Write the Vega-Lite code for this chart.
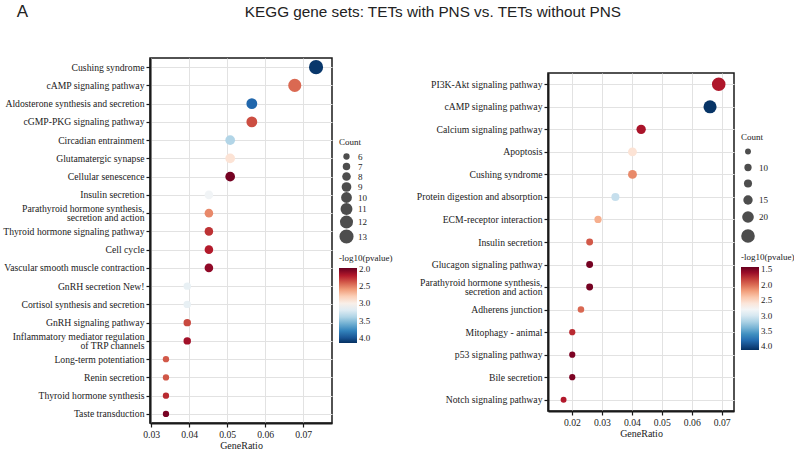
{
  "$schema": "https://vega.github.io/schema/vega-lite/v6.json",
  "background": "white",
  "padding": {"left": 2, "top": 2, "right": 0, "bottom": 0},
  "title": {
    "text": "KEGG gene sets: TETs with PNS vs. TETs without PNS",
    "anchor": "middle",
    "font": "Liberation Sans",
    "fontSize": 15.3,
    "fontWeight": "normal",
    "color": "#222222",
    "offset": 0,
    "dx": 34,
    "dy": 18
  },
  "datasets": {
    "kegg_left": [
      {"Pathway": "Cushing syndrome", "Count": 13, "GeneRatio": 0.0734, "neglog10p": 4.12},
      {"Pathway": "cAMP signaling pathway", "Count": 12, "GeneRatio": 0.0678, "neglog10p": 2.44},
      {"Pathway": "Aldosterone synthesis and secretion", "Count": 10, "GeneRatio": 0.0565, "neglog10p": 3.93},
      {"Pathway": "cGMP-PKG signaling pathway", "Count": 10, "GeneRatio": 0.0565, "neglog10p": 2.35},
      {"Pathway": "Circadian entrainment", "Count": 9, "GeneRatio": 0.0508, "neglog10p": 3.39},
      {"Pathway": "Glutamatergic synapse", "Count": 9, "GeneRatio": 0.0508, "neglog10p": 2.91},
      {"Pathway": "Cellular senescence", "Count": 9, "GeneRatio": 0.0508, "neglog10p": 2.02},
      {"Pathway": "Insulin secretion", "Count": 8, "GeneRatio": 0.0452, "neglog10p": 3.1},
      {"Pathway": "Parathyroid hormone synthesis, secretion and action", "Count": 8, "GeneRatio": 0.0452, "neglog10p": 2.54},
      {"Pathway": "Thyroid hormone signaling pathway", "Count": 8, "GeneRatio": 0.0452, "neglog10p": 2.26},
      {"Pathway": "Cell cycle", "Count": 8, "GeneRatio": 0.0452, "neglog10p": 2.2},
      {"Pathway": "Vascular smooth muscle contraction", "Count": 8, "GeneRatio": 0.0452, "neglog10p": 2.1},
      {"Pathway": "GnRH secretion New!", "Count": 7, "GeneRatio": 0.0395, "neglog10p": 3.15},
      {"Pathway": "Cortisol synthesis and secretion", "Count": 7, "GeneRatio": 0.0395, "neglog10p": 3.15},
      {"Pathway": "GnRH signaling pathway", "Count": 7, "GeneRatio": 0.0395, "neglog10p": 2.33},
      {"Pathway": "Inflammatory mediator regulation of TRP channels", "Count": 7, "GeneRatio": 0.0395, "neglog10p": 2.15},
      {"Pathway": "Long-term potentiation", "Count": 6, "GeneRatio": 0.0339, "neglog10p": 2.39},
      {"Pathway": "Renin secretion", "Count": 6, "GeneRatio": 0.0339, "neglog10p": 2.38},
      {"Pathway": "Thyroid hormone synthesis", "Count": 6, "GeneRatio": 0.0339, "neglog10p": 2.24},
      {"Pathway": "Taste transduction", "Count": 6, "GeneRatio": 0.0339, "neglog10p": 2.03}
    ],
    "kegg_right": [
      {"Pathway": "PI3K-Akt signaling pathway", "Count": 24, "GeneRatio": 0.069, "neglog10p": 1.68},
      {"Pathway": "cAMP signaling pathway", "Count": 23, "GeneRatio": 0.0661, "neglog10p": 4.1},
      {"Pathway": "Calcium signaling pathway", "Count": 15, "GeneRatio": 0.0431, "neglog10p": 1.66},
      {"Pathway": "Apoptosis", "Count": 14, "GeneRatio": 0.0402, "neglog10p": 2.58},
      {"Pathway": "Cushing syndrome", "Count": 14, "GeneRatio": 0.0402, "neglog10p": 2.12},
      {"Pathway": "Protein digestion and absorption", "Count": 12, "GeneRatio": 0.0345, "neglog10p": 3.09},
      {"Pathway": "ECM-receptor interaction", "Count": 10, "GeneRatio": 0.0287, "neglog10p": 2.28},
      {"Pathway": "Insulin secretion", "Count": 9, "GeneRatio": 0.0259, "neglog10p": 1.93},
      {"Pathway": "Glucagon signaling pathway", "Count": 9, "GeneRatio": 0.0259, "neglog10p": 1.47},
      {"Pathway": "Parathyroid hormone synthesis, secretion and action", "Count": 9, "GeneRatio": 0.0259, "neglog10p": 1.47},
      {"Pathway": "Adherens junction", "Count": 8, "GeneRatio": 0.023, "neglog10p": 1.99},
      {"Pathway": "Mitophagy - animal", "Count": 7, "GeneRatio": 0.0201, "neglog10p": 1.74},
      {"Pathway": "p53 signaling pathway", "Count": 7, "GeneRatio": 0.0201, "neglog10p": 1.5},
      {"Pathway": "Bile secretion", "Count": 7, "GeneRatio": 0.0201, "neglog10p": 1.5},
      {"Pathway": "Notch signaling pathway", "Count": 6, "GeneRatio": 0.0172, "neglog10p": 1.69}
    ]
  },
  "spacing": 21,
  "hconcat": [
    {
      "data": {"name": "kegg_left"},
      "width": 182,
      "height": 365,
      "title": {"text": "A", "anchor": "start", "frame": "bounds", "font": "Liberation Sans", "fontSize": 17, "fontWeight": "normal", "color": "#222222", "dx": 14, "offset": 37},
      "encoding": {
        "x": {
          "field": "GeneRatio", "type": "quantitative",
          "scale": {"domain": [0.0297, 0.0776], "nice": false, "zero": false},
          "axis": {"values": [0.03, 0.04, 0.05, 0.06, 0.07], "format": ".2f", "title": "GeneRatio"}
        },
        "y": {
          "field": "Pathway", "type": "nominal", "sort": null,
          "scale": {"padding": 0.5},
          "axis": {
            "title": null, "grid": true,
            "labelOffset": {"condition": {"test": "datum.value == 'Parathyroid hormone synthesis, secretion and action' || datum.value == 'Inflammatory mediator regulation of TRP channels'", "value": -4.7}, "value": 0},
            "labelExpr": "datum.value == 'Parathyroid hormone synthesis, secretion and action' ? ['Parathyroid hormone synthesis,', 'secretion and action'] : datum.value == 'Inflammatory mediator regulation of TRP channels' ? ['Inflammatory mediator regulation', 'of TRP channels'] : datum.label"
          }
        },
        "size": {
          "field": "Count", "type": "quantitative",
          "scale": {"type": "pow", "exponent": 2, "domain": [6, 13], "range": [40, 200], "zero": false},
          "legend": {"values": [6, 7, 8, 9, 10, 11, 12, 13], "rowPadding": 0}
        }
      },
      "layer": [
        {
          "transform": [{"filter": "datum.Count < 0"}],
          "mark": {"type": "circle", "color": "#4d4d4d", "opacity": 1}
        },
        {
          "mark": {"type": "circle", "opacity": 1},
          "encoding": {
            "color": {
              "field": "neglog10p", "type": "quantitative", "title": "-log10(pvalue)",
              "scale": {
                "domain": [4.15, 3.933, 3.716, 3.499, 3.282, 3.065, 2.848, 2.631, 2.414, 2.197, 1.98],
                "range": ["#053061", "#2166ac", "#4393c3", "#92c5de", "#d1e5f0", "#f7f7f7", "#fddbc7", "#f4a582", "#d6604d", "#b2182b", "#67001f"]
              },
              "legend": {"values": [2, 2.5, 3, 3.5, 4], "format": ".1f", "gradientLength": 75}
            }
          }
        }
      ]
    },
    {
      "spacing": 0,
      "vconcat": [
        {
          "data": {"values": [{}]},
          "width": 186,
          "height": 14,
          "view": {"stroke": null},
          "mark": {"type": "text", "text": ""},
          "encoding": {}
        },
        {
          "data": {"name": "kegg_right"},
          "width": 186,
          "height": 338,
          "encoding": {
            "x": {
              "field": "GeneRatio", "type": "quantitative",
              "scale": {"domain": [0.012, 0.0741], "nice": false, "zero": false},
              "axis": {"values": [0.02, 0.03, 0.04, 0.05, 0.06, 0.07], "format": ".2f", "title": "GeneRatio"}
            },
            "y": {
              "field": "Pathway", "type": "nominal", "sort": null,
              "scale": {"padding": 0.5},
              "axis": {
                "title": null, "grid": true,
                "labelOffset": {"condition": {"test": "datum.value == 'Parathyroid hormone synthesis, secretion and action'", "value": -4.7}, "value": 0},
                "labelExpr": "datum.value == 'Parathyroid hormone synthesis, secretion and action' ? ['Parathyroid hormone synthesis,', 'secretion and action'] : datum.label"
              }
            },
            "size": {
              "field": "Count", "type": "quantitative",
              "scale": {"type": "pow", "exponent": 2, "domain": [6, 24], "range": [35, 185], "zero": false},
              "legend": {"values": [6, 10, 12, 15, 20, 24], "rowPadding": 6, "labelExpr": "datum.value == 10 || datum.value == 15 || datum.value == 20 ? datum.label : ''"}
            }
          },
          "layer": [
            {
              "transform": [{"filter": "datum.Count < 0"}],
              "mark": {"type": "circle", "color": "#4d4d4d", "opacity": 1}
            },
            {
              "mark": {"type": "circle", "opacity": 1},
              "encoding": {
                "color": {
                  "field": "neglog10p", "type": "quantitative", "title": "-log10(pvalue)",
                  "scale": {
                    "domain": [4.12, 3.85, 3.58, 3.31, 3.04, 2.77, 2.5, 2.23, 1.96, 1.69, 1.42],
                    "range": ["#053061", "#2166ac", "#4393c3", "#92c5de", "#d1e5f0", "#f7f7f7", "#fddbc7", "#f4a582", "#d6604d", "#b2182b", "#67001f"]
                  },
                  "legend": {"values": [1.5, 2, 2.5, 3, 3.5, 4], "format": ".1f", "gradientLength": 83}
                }
              }
            }
          ]
        }
      ],
      "resolve": {
        "scale": {"color": "independent", "size": "independent"},
        "legend": {"color": "independent", "size": "independent"}
      }
    }
  ],
  "resolve": {
    "scale": {"color": "independent", "size": "independent"},
    "legend": {"color": "independent", "size": "independent"}
  },
  "config": {
    "font": "Liberation Serif",
    "view": {"stroke": "#1a1a1a", "strokeWidth": 1.5},
    "axis": {
      "labelFont": "Liberation Serif", "labelFontSize": 9.7, "labelColor": "#222222",
      "labelOverlap": false, "labelFlush": false, "labelLineHeight": 9.5,
      "titleFont": "Liberation Serif", "titleFontSize": 10, "titleFontWeight": "normal", "titleColor": "#222222", "titlePadding": 2,
      "gridColor": "#e2e2e2", "gridWidth": 1,
      "domainColor": "#1a1a1a", "domainWidth": 2,
      "tickColor": "#1a1a1a", "tickSize": 4, "tickWidth": 1.2, "labelPadding": 2
    },
    "legend": {
      "orient": "right", "offset": 7,
      "titleFont": "Liberation Serif", "titleFontSize": 9, "titleFontWeight": "normal", "titleColor": "#222222",
      "labelFont": "Liberation Serif", "labelFontSize": 9, "labelColor": "#222222",
      "symbolFillColor": "#4d4d4d", "symbolStrokeWidth": 0, "symbolOpacity": 1,
      "gradientThickness": 18, "gradientStrokeWidth": 0,
      "layout": {"right": {"anchor": "middle", "direction": "vertical", "margin": 10}}
    }
  }
}
